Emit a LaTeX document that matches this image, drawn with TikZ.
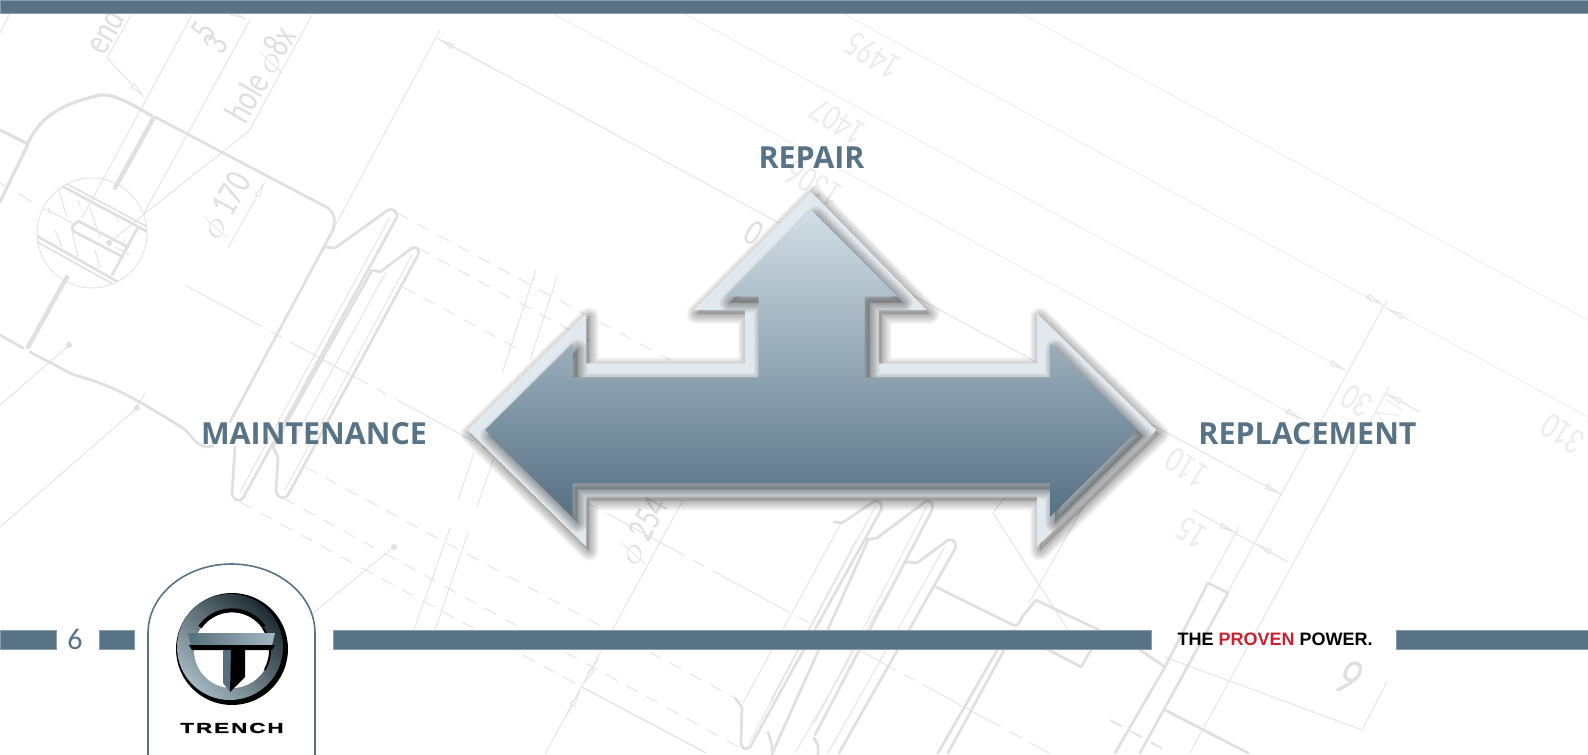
\documentclass[tikz,border=0pt]{standalone}
\usepackage{fontspec}
\setmainfont{Open Sans}
\newfontfamily\plainfont{Liberation Sans}
\newfontfamily\trenchfont[FakeStretch=1.55,LetterSpace=14,FakeBold=1.5]{Liberation Sans Bold}
\newfontfamily\dimfont[FakeStretch=0.75]{Carlito}
\newfontfamily\pagefont{Carlito}
\usepackage{xcolor}
\usepackage{tikz}
\usetikzlibrary{arrows.meta, positioning, calc}
\definecolor{barblue}{HTML}{587385}
\definecolor{paleband}{HTML}{E2E9EE}
\definecolor{arrowtop}{HTML}{D2DEE5}
\definecolor{arrowbot}{HTML}{557084}
\definecolor{drawgrey}{HTML}{E0E0E0}
\definecolor{drawthin}{HTML}{E3E3E3}
\definecolor{drawpale}{HTML}{EDEDED}
\definecolor{provenred}{HTML}{CB2030}
\definecolor{logolt}{HTML}{A3B7C0}
\definecolor{logomd}{HTML}{55707C}
\definecolor{logodk}{HTML}{1E2C32}

\begin{document}
\begin{tikzpicture}[
  x=0.5pt, y=-0.5pt,
  thinln/.style={draw=drawthin, line width=0.45pt},
  paleln/.style={draw=drawpale, line width=0.45pt},
  thickln/.style={draw=drawgrey, line width=1.35pt, line join=round, line cap=round},
  dashln/.style={draw=drawthin, line width=0.45pt, dash pattern=on 6.5pt off 5pt},
  axisln/.style={draw=drawthin, line width=0.45pt, dash pattern=on 44pt off 5pt on 6pt off 5pt},
  dimarr/.style={thinln, -{Latex[open, length=9pt, width=3pt]}},
  dimtxt/.style={text=drawgrey, font=\dimfont\fontsize{19}{19}\selectfont, inner sep=0pt},
  lbl/.style={text=barblue, font=\bfseries\fontsize{15.2}{18}\selectfont, inner sep=0pt},
  bar/.style={fill=barblue, draw=barblue!70!white, line width=0.25pt},
  outerarrow/.style={insert path={(811,191.7) -- (926.7,310) -- (878.5,310) -- (878.5,363.3) -- (1036.9,363.3) -- (1036.9,313.3) -- (1156.3,430) -- (1036.9,546.7) -- (1036.9,496.7) -- (586,496.7) -- (586,546.7) -- (467.5,430) -- (586,313.3) -- (586,363.3) -- (744.9,363.3) -- (744.9,310) -- (693.4,310) -- cycle}},
  innerarrow/.style={insert path={(811,210) -- (897.8,296.7) -- (864.7,296.7) -- (864.7,377.3) -- (1050.2,377.3) -- (1050.2,343.3) -- (1137.9,430) -- (1050.2,516.7) -- (1050.2,483.3) -- (572.7,483.3) -- (572.7,516.7) -- (485,430) -- (572.7,343.3) -- (572.7,377.3) -- (758.6,377.3) -- (758.6,296.7) -- (724.7,296.7) -- cycle}}
]

\clip (0,0) rectangle (1588,754);
\fill[white] (0,0) rectangle (1588,754);

\draw[paleln] (842,13) -- (1588,417);
\draw[paleln] (1020,13) -- (1588,320);
\draw[paleln] (683,13) -- (1347,371);
\draw[paleln] (1420,412) -- (1385,393);
\draw[paleln] (552,13) -- (1303,420);
\draw[thinln] (437,38) -- (1282,495);
\draw[thinln] (1387,682) -- (1362,730) -- (1165,657);
\draw[thinln] (1193,510) -- (1288,562);
\draw[thinln] (1387,300) -- (1210,625);
\draw[thinln] (1239,527) -- (1210,580);
\draw[thinln] (1389,387) -- (1190,753);
\draw[dimarr] (1330,362) -- (1347,371);
\draw[dimarr] (1420,412) -- (1385,393);
\draw[dimarr] (1365,295) -- (1384,305);
\draw[dimarr] (1405,318) -- (1386,308);
\draw[dimarr] (1285,410) -- (1303,420);
\draw[dimarr] (1264,485) -- (1282,495);
\draw[dimarr] (1220,525) -- (1237,533);
\draw[dimarr] (1272,553) -- (1255,543);

\draw[thinln] (0,33) -- (10,13);
\draw[thinln] (132,13) -- (107,58);
\draw[dimarr] (107,58) -- (145,98);
\draw[thinln] (193,13) -- (82,218);
\draw[thinln] (250,20) -- (142,217);
\draw[dimarr] (235,14) -- (248,20);
\draw[thinln] (313,13) -- (249,131) -- (143,215) -- (109,243);
\fill[drawgrey] (109,243) circle[radius=3];
\draw[dimarr] (228,248) -- (266,180);
\draw[thinln] (440,30) -- (230,422);
\draw[dimarr] (500,72) -- (437,38);
\draw[thinln] (18,193) -- (32,202);
\draw[thinln] (0,183) -- (5,186);

\draw[thickln, line width=1.6pt] (0,130) -- (28,144) -- (0,202);
\draw[thickln, line width=1.6pt] (28,143) .. controls (43,112) and (67,103) .. (100,95) .. controls (112,94) and (125,100) .. (152,116);
\draw[thickln] (155,117) -- (328,208) .. controls (334,212) and (336,220) .. (333,230) -- (230,422);
\draw[thickln, line width=2.2pt] (153,119) -- (115,188);
\draw[thinln] (92,233) circle[radius=55];
\begin{scope}
\clip (92,233) circle[radius=55];
\draw[thickln] (60,185) -- (148,232);
\draw[thickln, line width=0.8pt] (67,184) -- (148,227);
\draw[thickln] (35,235) -- (118,282);
\draw[thickln, line width=0.8pt] (37,242) -- (113,284);
\draw[thickln] (78,221) -- (128,247);
\draw[thickln] (73,231) -- (123,257);
\draw[thickln] (78,221) -- (72,227) -- (73,231);
\draw[thickln] (138,227) -- (112,275);
\foreach \xa/\ya/\xb/\yb in {58/188/67/217, 78/200/80/206, 48/207/50/214, 90/208/100/238, 55/230/62/247, 72/232/78/257, 95/250/100/268, 115/212/118/222, 125/240/122/247, 43/208/73/223, 115/247/130/255}
  \draw[thinln] (\xa,\ya) -- (\xb,\yb);
\end{scope}
\draw[thickln, line width=2.2pt] (67,277) -- (28,347);
\draw[thickln] (0,335) -- (23,348);
\draw[thickln] (30,352) -- (72,374) -- (97,382) .. controls (125,392) and (145,405) .. (183,428) .. controls (190,433) and (195,445) .. (206,447) -- (213,446);
\draw[thinln] (67,347) -- (0,405);
\fill[drawgrey] (69,345) circle[radius=3];
\draw[thinln] (137,408) -- (0,527);
\draw[thinln] (145,393) -- (133,413);
\fill[drawgrey] (137,408) circle[radius=3];

\draw[thickln] (325,247) -- (335,248) -- (388,210) .. controls (393,208) and (398,212) .. (397,217) -- (243,498) .. controls (240,502) and (234,501) .. (232,494) -- (235,447);
\draw[thickln] (372,270) -- (380,272) -- (412,248) .. controls (417,246) and (420,250) .. (418,255) -- (288,495) .. controls (284,500) and (277,498) .. (276,491) -- (278,457) -- (273,447) -- (372,270);
\draw[thinln] (390,217) -- (240,492);
\draw[thinln] (412,255) -- (285,490);
\draw[thinln] (386,272) -- (290,447);
\draw[dashln] (397,213) -- (670,360);
\draw[dashln] (418,248) -- (590,341);
\draw[dashln] (403,287) -- (520,350);
\draw[axisln] (185,285) -- (1049,753);
\draw[dashln] (305,467) -- (735,698);
\draw[dashln] (283,498) -- (739,747);
\draw[dashln] (240,502) -- (582,687);
\draw[thinln, line width=0.7pt] (582,687) -- (706,753);
\fill[drawgrey] (394,547) circle[radius=3];
\draw[thinln] (394,547) -- (313,613);

\draw[thinln] (536,270) -- (502,373);
\draw[thinln] (474,453) -- (458,500);
\draw[thinln] (450,528) -- (414,630);
\draw[thinln] (557,277) -- (530,360);
\draw[thinln] (493,460) -- (477,507);
\draw[thinln] (468,533) -- (435,630);

\draw[thinln] (683,500) -- (545,754);
\draw[dimarr] (599,658) -- (583,685);
\draw[dimarr] (565,718) -- (581,690);

\draw[thickln] (834,522) -- (842,523) -- (873,502) .. controls (880,499) and (883,505) .. (881,510) -- (750,747) .. controls (746,751) and (741,748) .. (741,743) -- (742,707) -- (735,698);
\draw[thinln] (841,523) -- (743,703);
\draw[thinln] (875,507) -- (749,743);
\draw[thickln] (865,540) -- (877,538) -- (925,502) .. controls (931,499) and (934,505) .. (932,510) -- (815,735);
\draw[thickln] (868,540) -- (772,754);
\draw[thinln] (856,540) -- (771,700);
\draw[thinln] (926,508) -- (815,722);
\draw[thickln] (772,752) -- (772,745) -- (768,732);
\draw[thickln] (814,738) -- (818,745) -- (818,754);
\draw[thickln] (907,562) -- (917,563) -- (948,540) .. controls (954,538) and (957,544) .. (955,549) -- (839,753);
\draw[thinln] (945,546) -- (828,753);
\draw[thinln] (905,563) -- (795,753);
\draw[thickln] (936,587) -- (1013,625) .. controls (1018,627) and (1020,622) .. (1022,617) -- (1036,600) -- (1099,630);
\draw[thickln] (1045,648) -- (1081,667) -- (1091,650);
\draw[thickln] (1007,633) -- (938,753);
\draw[thickln] (1015,630) -- (948,753);
\draw[thinln] (1005,497) -- (993,513) -- (1068,630);
\draw[thinln] (1083,507) -- (1029,603);
\draw[thickln] (1137,648) -- (1165,667);
\draw[thickln] (1165,667) -- (1115,753);
\draw[thickln] (1208,583) -- (1165,667);
\draw[thickln] (1228,593) -- (1140,753);
\draw[thickln] (1208,583) -- (1228,593);
\draw[thickln] (1165,710) -- (1248,753);
\draw[dashln, line width=0.9pt] (1110,720) -- (1165,750);

\node[dimtxt, rotate=60] (tend) at (104,31) {end};
\node[dimtxt, rotate=60] (tfive) at (204,31) {5};
\node[dimtxt, rotate=60] (tthree) at (216,44) {3};
\node[dimtxt, rotate=60, anchor=base west] (thole) at (245,126) {hole $\phi$8x};
\node[dimtxt, rotate=61] (tonesev) at (228,207) {$\phi$ 170};
\node[dimtxt, rotate=62] (ttwofive) at (645,532) {$\phi$ 254};
\node[dimtxt, rotate=148, text=drawpale] (tfourn) at (873,56) {1495};
\node[dimtxt, rotate=148, text=drawpale] (tfours) at (838,122) {1407};
\node[dimtxt, rotate=148, text=drawpale] (tthirt) at (814,184) {1306};
\node[dimtxt, rotate=148] (tzero) at (754,233) {0};
\node[dimtxt, rotate=148, text=drawpale] (tten) at (1187,468) {110};
\node[dimtxt, rotate=148, text=drawpale] (tfift) at (1192,533) {15};
\node[dimtxt, rotate=148, text=drawpale] (tgeq) at (1372,408) {$\geq$\,30};
\node[dimtxt, rotate=148, text=drawpale] (tthrten) at (1563,434) {310};
\node[dimtxt, rotate=148, font=\dimfont\fontsize{26}{26}\selectfont] (tsix) at (1350,678) {6};

\fill[black, opacity=0.15, shift={(3,4)}, outerarrow];
\foreach \w in {20,18,...,2}
  \draw[black, opacity=0.03, shift={(3,4)}, line join=round, line width=\w*0.5pt, outerarrow];
\fill[paleband, outerarrow];
\begin{scope}
\clip[outerarrow];
\fill[black, opacity=0.2, shift={(5,6)}, innerarrow];
\foreach \w in {20,18,...,2}
  \draw[black, opacity=0.035, shift={(5,6)}, line join=round, line width=\w*0.5pt, innerarrow];
\end{scope}
\shade[top color=arrowtop, bottom color=arrowbot, innerarrow];

\fill[bar] (0,0) rectangle (1588,13);
\fill[bar] (0,630) rectangle (56,649);
\fill[bar] (99,630) rectangle (134,649);
\fill[bar] (333,630) rectangle (1151,649);
\fill[bar] (1396,630) rectangle (1588,649);
\node[text=barblue, font=\pagefont\fontsize{15}{15}\selectfont, inner sep=0pt] (pagenum) at (75,639) {6};

\filldraw[fill=white, draw=barblue, line width=0.8pt] (148,760) -- (148,633) arc[start angle=180, end angle=360, x radius=83.5, y radius=69] -- (315,760) -- cycle;
\fill[black] (232,649) circle[radius=56];
\shade[top color=logodk, bottom color=logolt, shading angle=-45] (230,647) circle[radius=53];
\fill[white] (232,650) circle[radius=38];
\draw[black, line width=2pt] (200,627) arc[start angle=215, end angle=325, radius=39];
\draw[black, line width=1pt] (263,628) arc[start angle=325, end angle=390, radius=39];
\shade[left color=logomd, right color=logolt] (188,633) -- (275,633) -- (272,645) -- (191,645) -- cycle;
\fill[black] (189,645) -- (275,645) -- (272,650) -- (192,650) -- cycle;
\fill[logomd] (223,650) -- (232,650) -- (230,692) -- (223,683) -- cycle;
\fill[black] (231,650) -- (245,650) -- (245,677) -- (230,692) -- cycle;
\node[text=black, font=\trenchfont\fontsize{7.2}{8}\selectfont, inner sep=0pt] (trench) at (232,728) {TRENCH};

\node[lbl] (repair) at (811.5,158) {REPAIR};
\node[lbl] (maint) at (314,434) {MAINTENANCE};
\node[lbl] (replace) at (1307.5,434) {REPLACEMENT};
\node[font=\plainfont\bfseries\fontsize{9}{11}\selectfont, text=black, inner sep=0pt] (slogan) at (1275,639) {THE \textcolor{provenred}{PROVEN} POWER.};

\end{tikzpicture}
\end{document}
